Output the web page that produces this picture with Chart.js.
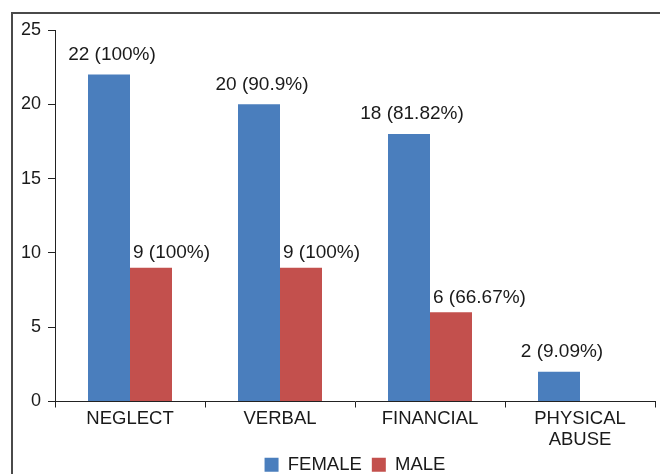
<!DOCTYPE html>
<html><head><meta charset="utf-8">
<script src="https://cdn.jsdelivr.net/npm/chart.js@4/dist/chart.umd.min.js"></script>
<style>html,body{margin:0;padding:0;background:#fff}#wrap{position:relative;width:660px;height:474px}</style>
</head><body><div id="wrap"><canvas id="c" width="660" height="474"></canvas></div>
<script>
const categories = ["NEGLECT", "VERBAL", "FINANCIAL", ["PHYSICAL", "ABUSE"]];
const femaleValues = [22, 20, 18, 2];
const maleValues = [9, 9, 6, null];
const femaleLabels = ["22 (100%)", "20 (90.9%)", "18 (81.82%)", "2 (9.09%)"];
const maleLabels = ["9 (100%)", "9 (100%)", "6 (66.67%)", ""];
const yTicks = [0, 5, 10, 15, 20, 25];

const FONT = "'Liberation Sans', Arial, Helvetica, sans-serif";
const TXT = "#1a1a1a";

const frame = {
  id: 'frame',
  beforeDraw(chart) {
    const ctx = chart.ctx;
    ctx.save();
    ctx.strokeStyle = '#4a4a4a';
    ctx.lineWidth = 2;
    ctx.beginPath();
    ctx.moveTo(12, 474);
    ctx.lineTo(12, 13);
    ctx.lineTo(660, 13);
    ctx.stroke();
    ctx.restore();
  }
};

// center the legend under the plot area rather than the whole canvas
const legendCenter = {
  id: 'legendCenter',
  afterLayout(chart) {
    if (chart.legend) {
      chart.legend.left = chart.chartArea.left;
      chart.legend.right = chart.chartArea.right;
    }
  }
};

const valueLabels = {
  id: 'valueLabels',
  afterDatasetsDraw(chart) {
    const ctx = chart.ctx;
    ctx.save();
    ctx.font = "19px " + FONT;
    ctx.fillStyle = TXT;
    ctx.textBaseline = 'middle';
    chart.data.datasets.forEach((ds, di) => {
      const meta = chart.getDatasetMeta(di);
      meta.data.forEach((bar, i) => {
        const txt = ds.valueText[i];
        if (!txt || ds.data[i] == null) return;
        if (di === 0) {
          ctx.textAlign = 'center';
          ctx.fillText(txt, bar.x + 3, bar.y - 20);
        } else {
          ctx.textAlign = 'left';
          ctx.fillText(txt, bar.x - bar.width / 2 + 3, bar.y - 15);
        }
      });
    });
    ctx.restore();
  }
};

new Chart(document.getElementById('c'), {
  type: 'bar',
  data: {
    labels: categories,
    datasets: [
      { label: 'FEMALE', data: femaleValues, valueText: femaleLabels, backgroundColor: '#4a7ebd', categoryPercentage: 0.56, barPercentage: 1.0 },
      { label: 'MALE', data: maleValues, valueText: maleLabels, backgroundColor: '#c3504d', categoryPercentage: 0.56, barPercentage: 1.0 }
    ]
  },
  options: {
    responsive: false,
    animation: false,
    devicePixelRatio: 1,
    layout: { padding: { top: 30, right: 5, left: 0, bottom: -10 } },
    plugins: {
      legend: {
        position: 'bottom',
        labels: { font: { family: FONT, size: 18.5 }, color: TXT, boxWidth: 14, boxHeight: 14, padding: 10 }
      },
      tooltip: { enabled: false }
    },
    scales: {
      x: {
        afterFit(scale) { scale.height = 44; },
        grid: { drawOnChartArea: false, drawTicks: true, tickLength: 6, color: '#222', offset: true },
        border: { display: true, color: '#222', width: 1 },
        ticks: { font: { family: FONT, size: 18.5, lineHeight: 1.18 }, color: TXT, padding: 0, maxRotation: 0, autoSkip: false }
      },
      y: {
        min: 0, max: 25,
        afterFit(scale) { scale.width = 55; },
        afterBuildTicks(scale) { scale.ticks = yTicks.map(v => ({ value: v })); },
        grid: { drawOnChartArea: false, drawTicks: true, tickLength: 7, color: '#222' },
        border: { display: true, color: '#222', width: 1 },
        ticks: { font: { family: FONT, size: 18 }, color: TXT, padding: 7 }
      }
    }
  },
  plugins: [frame, legendCenter, valueLabels]
});
</script></body></html>
